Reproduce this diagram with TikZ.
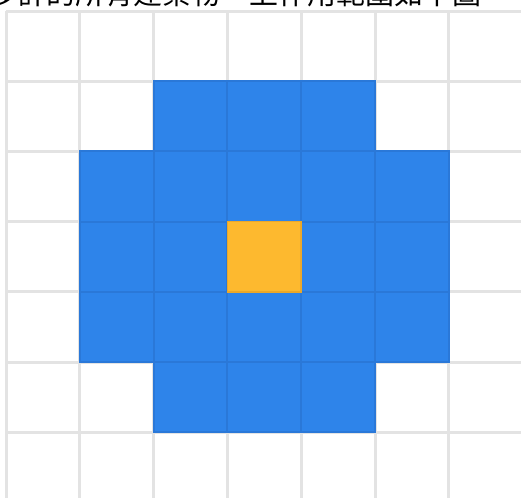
\documentclass[tikz,border=0pt]{standalone}
\usepackage{fontspec}
\newfontfamily\cjk{Noto Sans CJK TC}
\definecolor{gridgray}{HTML}{E3E3E3}
\definecolor{cellblue}{HTML}{2E84EA}
\definecolor{celledge}{HTML}{2A78D8}
\definecolor{cellorange}{HTML}{FDB92F}
\definecolor{orangeedge}{HTML}{EBA82A}
\begin{document}
\begin{tikzpicture}[x=1pt,y=-1pt,
  gridline/.style={draw=gridgray,line width=3pt},
  bluecell/.style={fill=cellblue,draw=celledge,line width=2pt},
  orangecell/.style={fill=cellorange,draw=orangeedge,line width=1.5pt}]
\useasboundingbox (0,0) rectangle (521,498);
\clip (0,0) rectangle (521,498);
\fill[white] (0,0) rectangle (521,498);
% grid
\foreach \x in {6,79.8,153.6,227.4,301.2,375,448.8}
  \draw[gridline] (\x,11) -- (\x,498);
\foreach \y in {11,81.2,151.4,221.6,291.8,362,432.2}
  \draw[gridline] (6,\y) -- (521,\y);
% blue cells
\foreach \c/\r in {2/1,3/1,4/1,
  1/2,2/2,3/2,4/2,5/2,
  1/3,2/3,4/3,5/3,
  1/4,2/4,3/4,4/4,5/4,
  2/5,3/5,4/5}
  \draw[bluecell] ({6+73.8*\c},{11+70.2*\r}) rectangle ++(73.8,70.2);
\draw[orangecell] ({6+73.8*3},{11+70.2*3}) rectangle ++(73.8,70.2);
\node[anchor=base west,inner sep=0pt,font=\cjk\fontsize{29}{29}\selectfont] (title) at (-12,4) {多計的所有建築物，上作用範圍如下圖};
\end{tikzpicture}
\end{document}
